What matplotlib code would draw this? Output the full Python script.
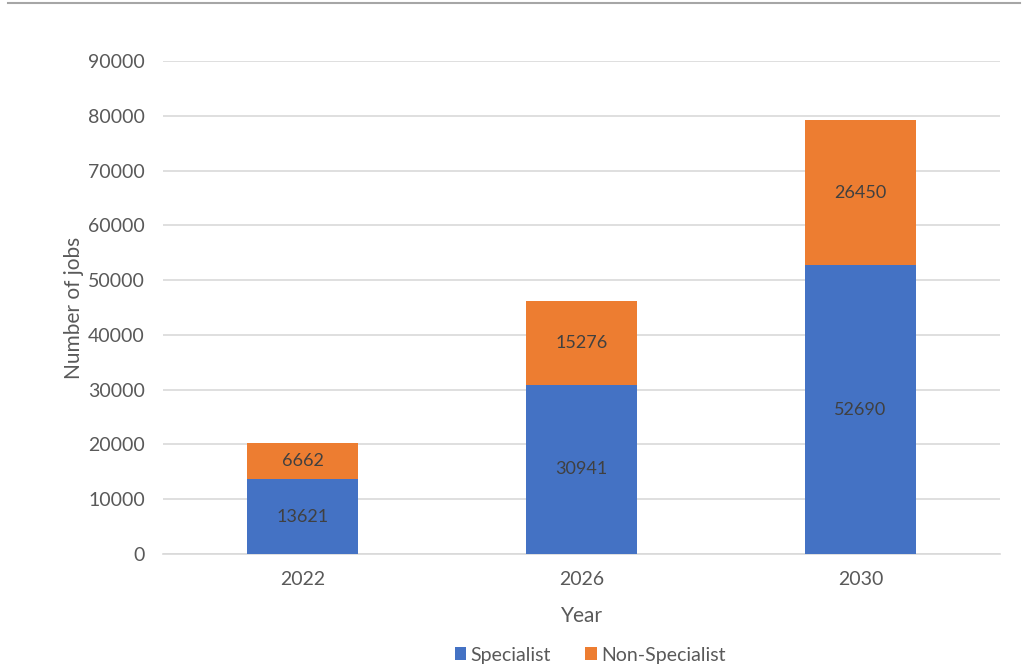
import matplotlib
matplotlib.use("Agg")
import matplotlib.pyplot as plt
from matplotlib.lines import Line2D
import numpy as np

years = ["2022", "2026", "2030"]
specialist = [13621, 30941, 52690]
non_specialist = [6662, 15276, 26450]
yticks = [0, 10000, 20000, 30000, 40000, 50000, 60000, 70000, 80000, 90000]

plt.rcParams['font.family'] = ['Lato', 'DejaVu Sans']
txt = '#595959'

fig = plt.figure(figsize=(10.23, 6.68), dpi=100)
ax = fig.add_axes([163/1023, 1-554/668, (1000-163)/1023, (554-61)/668])

x = np.arange(len(years))
w = 0.4
b1 = ax.bar(x, specialist, w, color='#4472C4', label='Specialist', zorder=3)
b2 = ax.bar(x, non_specialist, w, bottom=specialist, color='#ED7D31', label='Non-Specialist', zorder=3)

for i in range(len(years)):
    ax.text(x[i], specialist[i]/2, str(specialist[i]), ha='center', va='center',
            fontsize=13, color='#404040', zorder=4)
    ax.text(x[i], specialist[i] + non_specialist[i]/2, str(non_specialist[i]), ha='center',
            va='center', fontsize=13, color='#404040', zorder=4)

ax.set_xlim(-0.5, 2.5)
ax.set_ylim(0, 90000)
ax.set_yticks(yticks)
ax.set_yticklabels([str(v) for v in yticks])
ax.set_xticks(x)
ax.set_xticklabels(years)
ax.yaxis.grid(True, color='#D9D9D9', linewidth=1.2, zorder=0)
for s in ['top', 'right', 'left']:
    ax.spines[s].set_visible(False)
ax.spines['bottom'].set_color('#D9D9D9')
ax.spines['bottom'].set_linewidth(1.2)
ax.tick_params(axis='both', length=0, labelsize=14, colors=txt)
ax.tick_params(axis='x', pad=12)
ax.tick_params(axis='y', pad=13)
ax.set_xlabel('Year', fontsize=15, color=txt, labelpad=13)
ax.set_ylabel('Number of jobs', fontsize=15, color=txt, labelpad=3)

fig.legend(handles=[b1, b2], labels=['Specialist', 'Non-Specialist'], loc='center',
           bbox_to_anchor=(590/1023, 1-655/668), ncol=2, frameon=False, fontsize=14,
           handlelength=0.6, handleheight=0.6, handletextpad=0.2, columnspacing=1.8,
           labelcolor=txt)

fig.add_artist(Line2D([8/1023, 1020/1023], [1-3/668, 1-3/668], color='#A6A6A6', linewidth=1.5,
                      transform=fig.transFigure))

fig.savefig('out.png', dpi=100)
